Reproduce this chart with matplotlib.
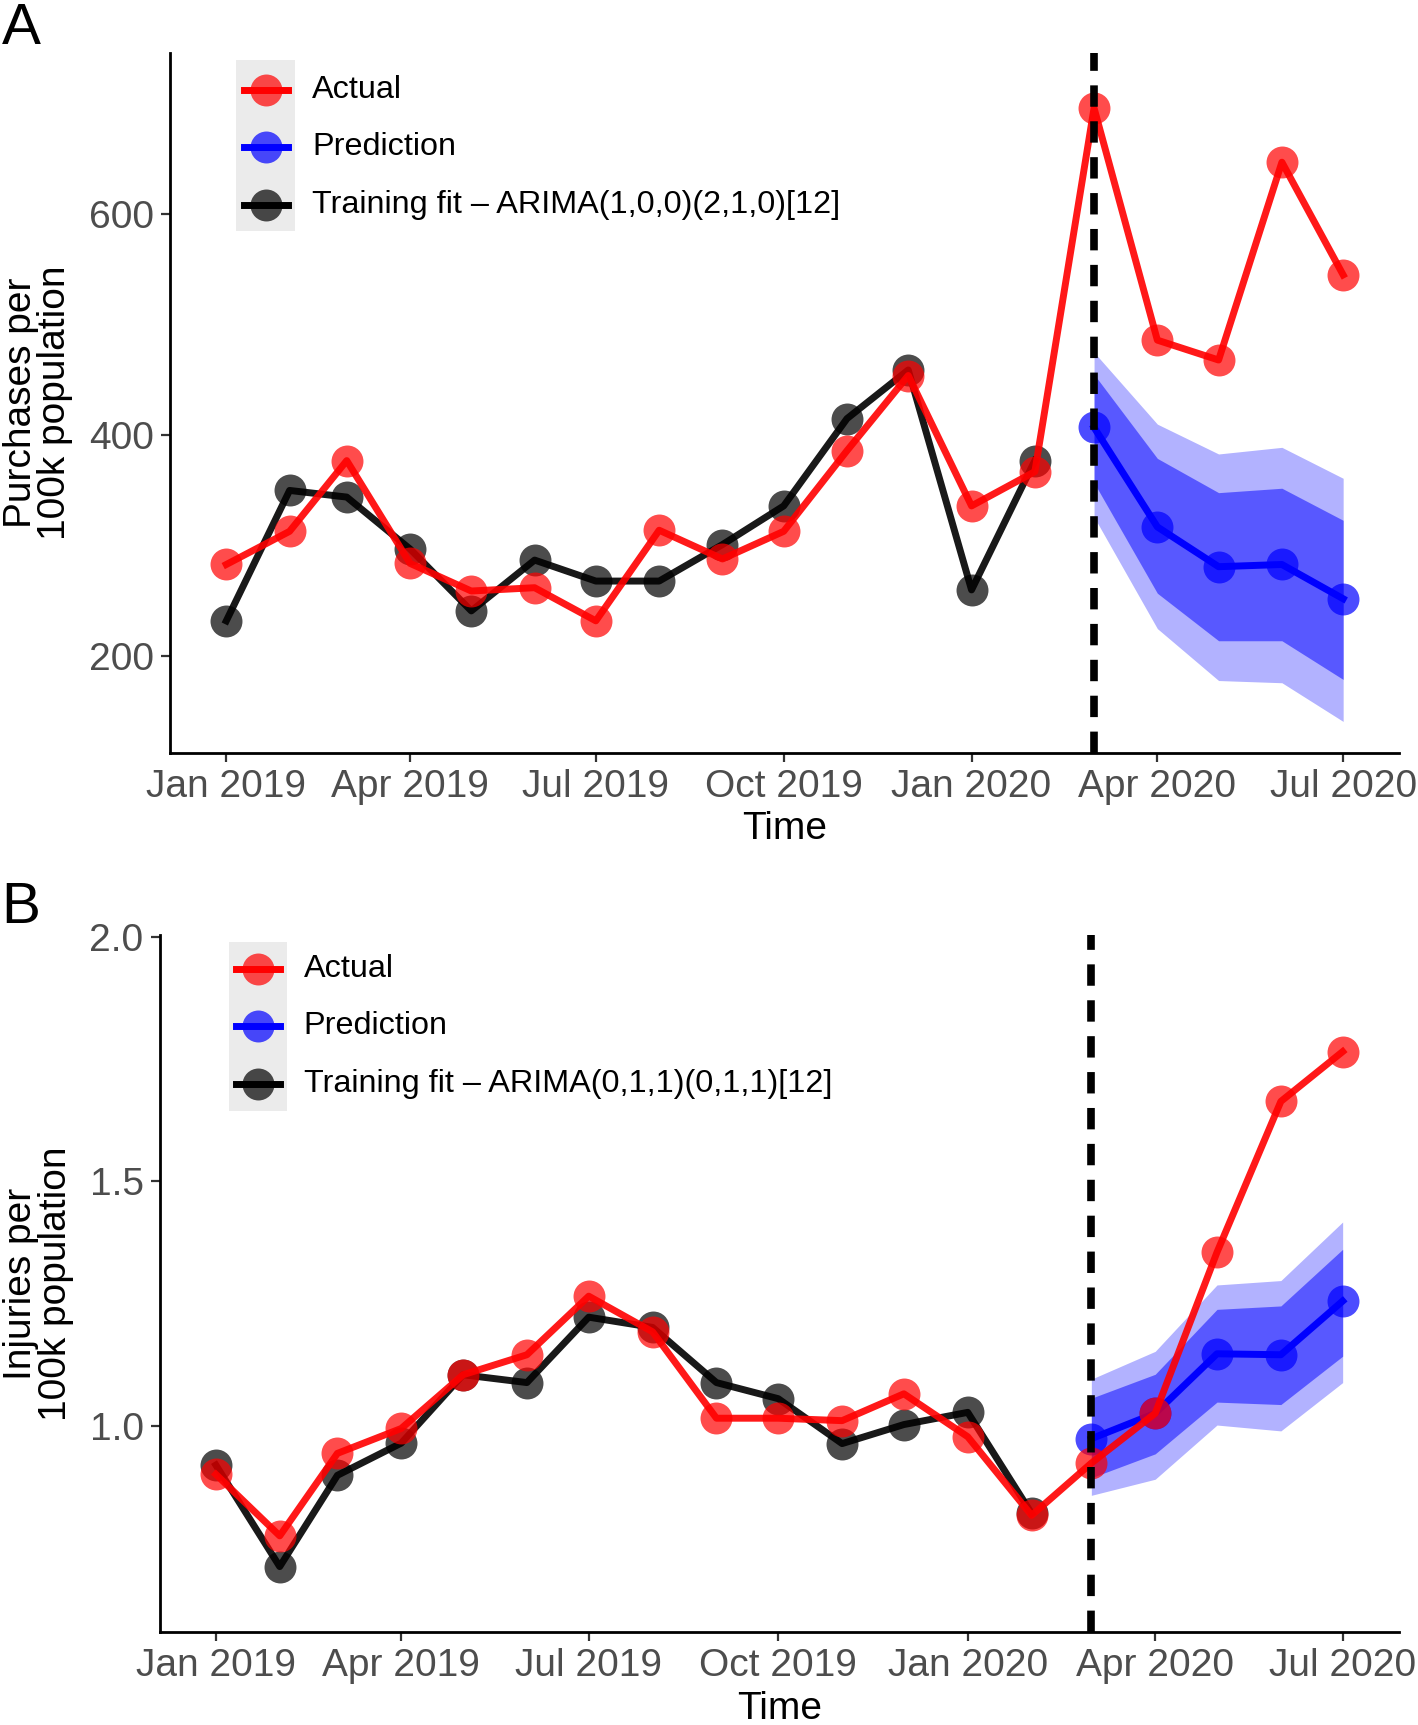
import matplotlib
matplotlib.use("Agg")
import matplotlib.pyplot as plt
import matplotlib.dates as mdates
import pandas as pd
from matplotlib.lines import Line2D
from matplotlib.patches import Rectangle

plt.rcParams['font.family'] = ['Liberation Sans', 'DejaVu Sans']

# months
actual_months = pd.date_range('2019-01-01', '2020-07-01', freq='MS')
train_months = actual_months[:14]
pred_months = actual_months[14:]
intervention = pd.Timestamp('2020-03-01')

# Panel A: purchases per 100k population
purch_actual = [283, 313, 377, 284, 259, 262, 232, 314, 288, 313, 386, 454, 336, 367,
                696, 486, 468, 647, 545]
purch_fit = [232, 350, 344, 297, 241, 287, 268, 268, 301, 336, 415, 459, 260, 377]
purch_pred = [407, 317, 281, 283, 252]
purch_lo80 = [357, 257, 214, 214, 179]
purch_hi80 = [455, 379, 348, 352, 323]
purch_lo95 = [326, 225, 178, 176, 141]
purch_hi95 = [475, 410, 383, 389, 361]

# Panel B: injuries per 100k population
inj_actual = [0.900, 0.774, 0.943, 0.994, 1.104, 1.145, 1.265, 1.192, 1.015, 1.015, 1.010,
              1.065, 0.977, 0.816, 0.923, 1.025, 1.355, 1.664, 1.766]
inj_fit = [0.919, 0.711, 0.898, 0.964, 1.104, 1.088, 1.222, 1.201, 1.088, 1.055, 0.963,
           1.002, 1.027, 0.820]
inj_pred = [0.973, 1.025, 1.147, 1.145, 1.255]
inj_lo80 = [0.893, 0.942, 1.048, 1.043, 1.142]
inj_hi80 = [1.056, 1.105, 1.238, 1.245, 1.361]
inj_lo95 = [0.857, 0.890, 1.001, 0.989, 1.088]
inj_hi95 = [1.095, 1.152, 1.288, 1.297, 1.417]

RED = '#FF0000'
BLUE = '#0000FF'
BLACK = '#000000'
LW = 5
MS = 23
ALPHA = 0.7


def draw_panel(ax, actual, fit, pred, lo80, hi80, lo95, hi95):
    ax.fill_between(pred_months, lo95, hi95, color=BLUE, alpha=0.3, lw=0)
    ax.fill_between(pred_months, lo80, hi80, color=BLUE, alpha=0.5, lw=0)
    ax.plot(pred_months, pred, color=BLUE, lw=LW, zorder=3)
    ax.plot(pred_months, pred, 'o', color=BLUE, ms=MS, alpha=ALPHA, mec='none', zorder=3)
    ax.plot(train_months, fit, color=BLACK, lw=LW, alpha=0.9, zorder=4)
    ax.plot(train_months, fit, 'o', color=BLACK, ms=MS, alpha=ALPHA, mec='none', zorder=4)
    ax.plot(actual_months, actual, color=RED, lw=LW, alpha=0.9, zorder=5)
    ax.plot(actual_months, actual, 'o', color=RED, ms=MS, alpha=ALPHA, mec='none', zorder=5)
    ax.axvline(intervention, color='black', lw=5.5, dashes=(2.8, 1.9), zorder=6)

    pad = pd.Timedelta(days=27.35)
    ax.set_xlim(actual_months[0] - pad, actual_months[-1] + pad)
    ax.xaxis.set_major_locator(mdates.MonthLocator(bymonth=[1, 4, 7, 10]))
    ax.xaxis.set_major_formatter(mdates.DateFormatter('%b %Y'))
    for s in ['top', 'right']:
        ax.spines[s].set_visible(False)
    for s in ['left', 'bottom']:
        ax.spines[s].set_linewidth(2.0)
    ax.tick_params(axis='both', length=6.5, width=1.6, color='#333333',
                   labelsize=28, labelcolor='#4D4D4D', pad=5)
    ax.set_xlabel('Time', fontsize=28, color='black')


def draw_legend(ax, x_line, x_text, ys, box, model):
    ax.add_patch(Rectangle((box[0], box[2]), box[1] - box[0], box[3] - box[2],
                           transform=ax.transAxes, color='#EBEBEB', lw=0, zorder=7))
    labels = ['Actual', 'Prediction', 'Training fit \u2013 ' + model]
    colors = [RED, BLUE, BLACK]
    xm = (x_line[0] + x_line[1]) / 2
    for y, lab, c in zip(ys, labels, colors):
        ax.add_line(Line2D(x_line, [y, y], color=c, lw=LW, transform=ax.transAxes, zorder=8))
        ax.add_line(Line2D([xm], [y], marker='o', color=c, ms=MS, alpha=ALPHA, mec='none',
                           transform=ax.transAxes, zorder=8))
        ax.text(x_text, y, lab, transform=ax.transAxes, fontsize=23.3, va='center',
                ha='left', zorder=8)


fig = plt.figure(figsize=(14.18, 17.25), dpi=100)
axA = fig.add_axes([0.1202, 0.5632, 0.8664, 0.4062])
axB = fig.add_axes([0.1125, 0.0539, 0.8741, 0.4041])

draw_panel(axA, purch_actual, purch_fit, purch_pred, purch_lo80, purch_hi80, purch_lo95, purch_hi95)
axA.set_ylim(112, 746)
axA.set_yticks([200, 400, 600])
axA.set_ylabel('Purchases per\n100k population', fontsize=28, linespacing=0.95)
axA.yaxis.set_label_coords(-0.079, 0.5)
axA.xaxis.set_label_coords(0.5, -0.082)
draw_legend(axA, (0.060, 0.0958), 0.1155, [0.9466, 0.865, 0.7834],
            (0.0537, 0.1011, 0.7457, 0.989), 'ARIMA(1,0,0)(2,1,0)[12]')

draw_panel(axB, inj_actual, inj_fit, inj_pred, inj_lo80, inj_hi80, inj_lo95, inj_hi95)
axB.set_ylim(0.577, 2.005)
axB.set_yticks([1.0, 1.5, 2.0])
axB.set_yticklabels(['1.0', '1.5', '2.0'])
axB.set_ylabel('Injuries per\n100k population', fontsize=28, linespacing=0.95)
axB.yaxis.set_label_coords(-0.069, 0.5)
axB.xaxis.set_label_coords(0.5, -0.085)
draw_legend(axB, (0.0621, 0.0976), 0.1162, [0.951, 0.8687, 0.7864],
            (0.0559, 0.1029, 0.7468, 0.9905), 'ARIMA(0,1,1)(0,1,1)[12]')

fig.text(0.001, 0.999, 'A', fontsize=42, va='top', ha='left')
fig.text(0.001, 0.489, 'B', fontsize=42, va='top', ha='left')

fig.savefig('out.png', dpi=100)
